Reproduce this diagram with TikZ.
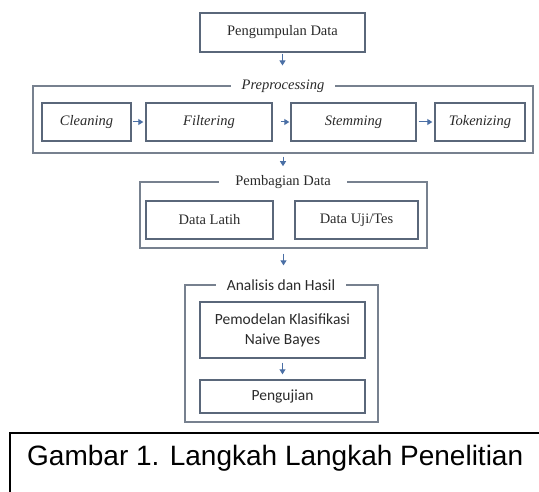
\documentclass[tikz,border=0pt]{standalone}
\usepackage{fontspec}
\setmainfont{Liberation Serif}
\newfontfamily\calibrifont{Carlito}
\newfontfamily\arialfont{Liberation Sans}
\usetikzlibrary{arrows.meta}
\definecolor{boxline}{HTML}{5A677A}
\definecolor{outerline}{HTML}{77818F}
\definecolor{arrowblue}{HTML}{4A6FA5}
\definecolor{txt}{HTML}{2A2A2A}
\begin{document}
\begin{tikzpicture}[x=1pt,y=-1pt,
  box/.style={draw=boxline, line width=1.4pt, rectangle, inner sep=0pt, text=txt, align=center},
  outerbox/.style={draw=outerline, line width=1.3pt, rectangle, inner sep=0pt},
  grouplabel/.style={fill=white, text=txt, inner ysep=1pt},
  arr/.style={draw=arrowblue, line width=1pt, -{Triangle[length=5pt,width=6pt]}},
  serif/.style={font=\fontsize{14.5}{17}\selectfont},
  itserif/.style={font=\fontsize{14.5}{17}\selectfont\itshape},
  cal/.style={font=\calibrifont\fontsize{15.5}{20}\selectfont}]
\clip (0,0) rectangle (539,492);
\fill[white] (0,0) rectangle (539,492);

% Pengumpulan Data
\node[box, serif, minimum width=165pt, minimum height=39pt] (pg) at (282.5,32.5) {Pengumpulan Data};

% Preprocessing group
\node[outerbox, minimum width=500pt, minimum height=67pt] (pre) at (283,119.5) {};
\node[grouplabel, itserif, inner xsep=11pt] (prelab) at (283,86) {Preprocessing};
\node[box, itserif, minimum width=89pt, minimum height=38pt] (cl) at (86.5,122) {Cleaning};
\node[box, itserif, minimum width=126pt, minimum height=38pt] (fi) at (209,122) {Filtering};
\node[box, itserif, minimum width=125pt, minimum height=38pt] (st) at (353.5,122) {Stemming};
\node[box, itserif, minimum width=90pt, minimum height=38pt] (tk) at (480,122) {Tokenizing};

% Pembagian Data group
\node[outerbox, minimum width=287pt, minimum height=66pt] (pd) at (283.5,215) {};
\node[grouplabel, serif, inner xsep=16pt] (pdlab) at (283,182) {Pembagian Data};
\node[box, serif, minimum width=127pt, minimum height=38pt] (dl) at (209.5,220) {Data Latih};
\node[box, serif, minimum width=123pt, minimum height=38pt] (du) at (356.5,220) {Data Uji/Tes};

% Analisis dan Hasil group
\node[outerbox, minimum width=193pt, minimum height=137pt] (an) at (281.5,353.5) {};
\node[grouplabel, cal, inner xsep=11pt] (anlab) at (281,285) {Analisis dan Hasil};
\node[box, cal, minimum width=165pt, minimum height=56pt] (pm) at (282.5,330) {Pemodelan Klasifikasi\\Naive Bayes};
\node[box, cal, minimum width=165pt, minimum height=33pt] (pu) at (282.5,396.5) {Pengujian};

% Arrows
\draw[arr, shorten <=1pt, shorten >=13pt] (pg.south) -- (pg.south |- prelab.north);
\draw[arr, shorten <=1pt, shorten >=2pt] (cl.east) -- (fi.west);
\draw[arr, shorten <=8pt, shorten >=1pt] (fi.east) -- (st.west);
\draw[arr, shorten <=2pt, shorten >=2pt] (st.east) -- (tk.west);
\draw[arr, shorten <=3pt, shorten >=8pt] (pre.south) -- (pre.south |- pdlab.north);
\draw[arr, shorten <=5pt, shorten >=13pt] (pd.south) -- (pd.south |- anlab.north);
\draw[arr, shorten <=4pt, shorten >=5pt] (pm.south) -- (pu.north);

% Caption
\draw[black, line width=1.6pt] (10,433) rectangle (600,540);
\node[font=\arialfont\fontsize{28}{32}\selectfont, anchor=base west, inner sep=0pt] (cap) at (27,465) {Gambar 1. Langkah Langkah Penelitian};
\end{tikzpicture}
\end{document}
